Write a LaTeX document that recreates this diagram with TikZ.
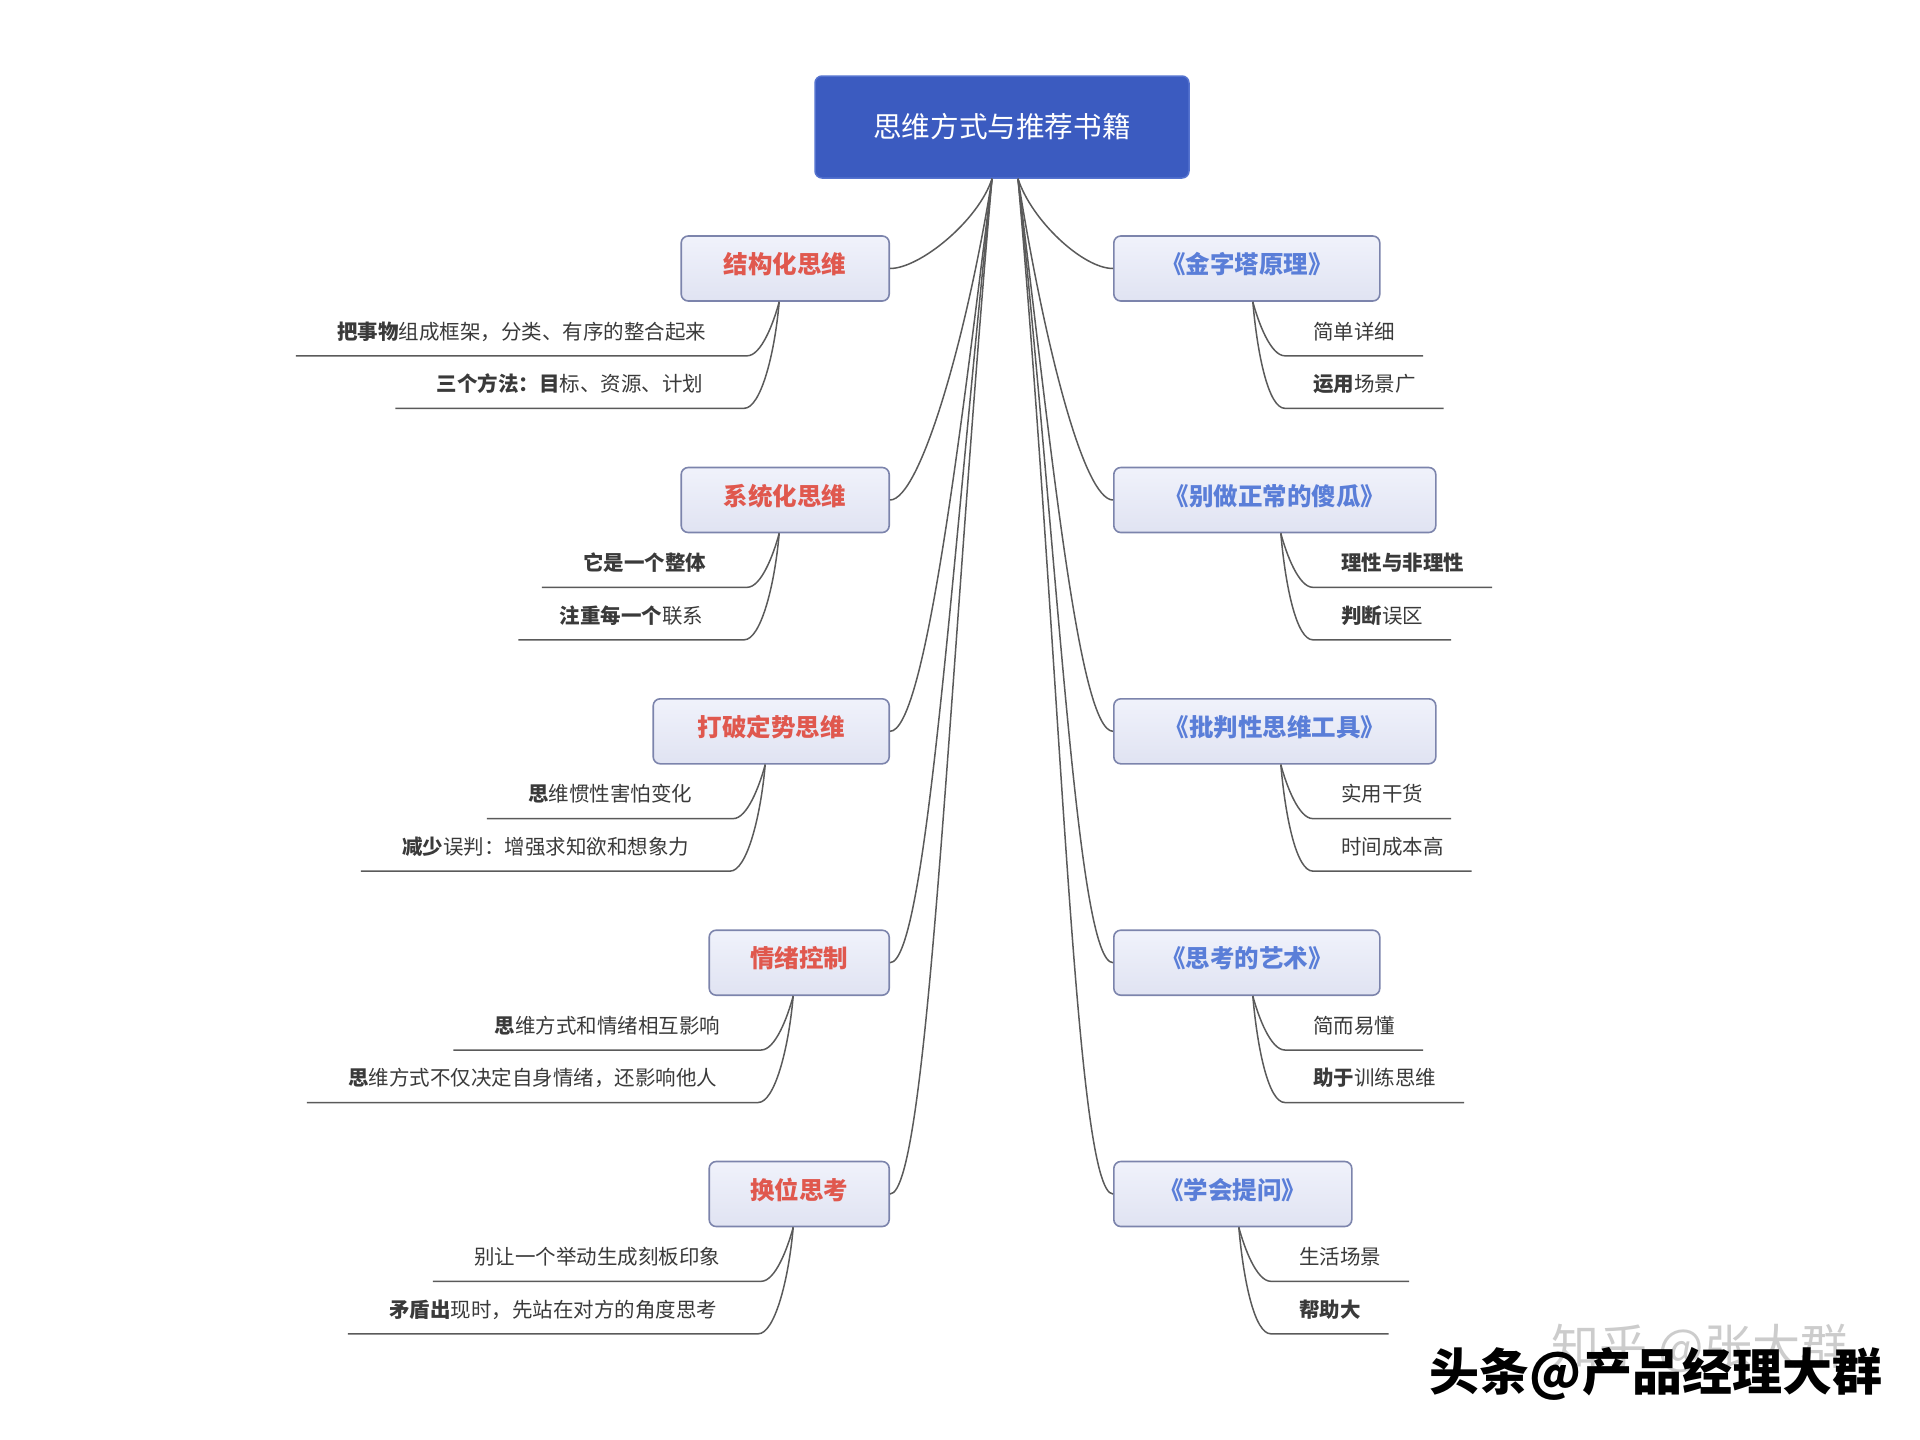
\documentclass[tikz,border=0pt]{standalone}
\usepackage{fontspec}
\setmainfont{Noto Sans CJK SC}
\definecolor{rootblue}{HTML}{3B5BC0}
\definecolor{rootedge}{HTML}{5573CF}
\definecolor{boxedge}{HTML}{7C84AC}
\definecolor{boxtop}{HTML}{F0F2FB}
\definecolor{boxbot}{HTML}{E0E3F2}
\definecolor{redtxt}{HTML}{E0584E}
\definecolor{bluetxt}{HTML}{5A7ED8}
\definecolor{subtxt}{HTML}{3A3A3A}
\definecolor{linkgray}{HTML}{5A5A5A}

\begin{document}
\begin{tikzpicture}[
x=1pt, y=1pt,
rootbox/.style={draw=rootedge, line width=1.5pt, fill=rootblue, rounded corners=7pt,
  minimum width=374pt, minimum height=102pt, text=white,
  font=\fontsize{28.6pt}{32pt}\selectfont},
topic/.style={draw=boxedge, line width=1.6pt, top color=boxtop, bottom color=boxbot,
  rounded corners=7pt, minimum height=65pt, inner xsep=0pt,
  text height=1.1em, text depth=0.08em, font=\bfseries\fontsize{24.5pt}{28pt}\selectfont},
ltopic/.style={topic, anchor=east, text=redtxt},
rtopic/.style={topic, anchor=west, text=bluetxt},
sub/.style={inner ysep=12.6pt, text height=16pt, text depth=4pt, text=subtxt,
  font=\fontsize{20.5pt}{24pt}\selectfont},
subl/.style={sub, anchor=south east, inner xsep=41pt},
subr/.style={sub, anchor=south west, inner xsep=28pt},
link/.style={draw=linkgray, line width=1.5pt}
]
\useasboundingbox (0,0) rectangle (1920,-1440);

\node[rootbox] (root) at (1002,-127) {思维方式与推荐书籍};

% left topics
\node[ltopic, minimum width=208pt] (B1) at (890,-268.5) {结构化思维};
\node[ltopic, minimum width=208pt] (B2) at (890,-500) {系统化思维};
\node[ltopic, minimum width=236pt] (B3) at (890,-731.3) {打破定势思维};
\node[ltopic, minimum width=180pt] (B4) at (890,-962.7) {情绪控制};
\node[ltopic, minimum width=180pt] (B5) at (890,-1194) {换位思考};

% right topics
\node[rtopic, minimum width=266pt] (R1) at (1113,-268.5) {《金字塔原理》};
\node[rtopic, minimum width=322pt] (R2) at (1113,-500) {《别做正常的傻瓜》};
\node[rtopic, minimum width=322pt] (R3) at (1113,-731.3) {《批判性思维工具》};
\node[rtopic, minimum width=266pt] (R4) at (1113,-962.7) {《思考的艺术》};
\node[rtopic, minimum width=238pt] (R5) at (1113,-1194) {《学会提问》};

\draw[link] ([xshift=-10pt]root.south) .. controls +(-108:44) and +(0:30) .. (B1.east);
\draw[link] ([xshift=-10pt]root.south) .. controls +(-99:160) and +(0:30) .. (B2.east);
\draw[link] ([xshift=-10pt]root.south) .. controls +(-97:275) and +(0:34) .. (B3.east);
\draw[link] ([xshift=-10pt]root.south) .. controls +(-96:390) and +(0:36) .. (B4.east);
\draw[link] ([xshift=-10pt]root.south) .. controls +(-95:500) and +(0:38) .. (B5.east);

\draw[link] ([xshift=16pt]root.south) .. controls +(-72:44) and +(180:30) .. (R1.west);
\draw[link] ([xshift=16pt]root.south) .. controls +(-81:160) and +(180:30) .. (R2.west);
\draw[link] ([xshift=16pt]root.south) .. controls +(-83:275) and +(180:34) .. (R3.west);
\draw[link] ([xshift=16pt]root.south) .. controls +(-84:390) and +(180:36) .. (R4.west);
\draw[link] ([xshift=16pt]root.south) .. controls +(-85:500) and +(180:38) .. (R5.west);

% left items
\node[subl] (b1a) at ([shift={(-38,-54)}]B1.south) {{\bfseries 把事物}组成框架，分类、有序的整合起来};
\node[subl] (b1b) at ([shift={(-41,-106.5)}]B1.south) {{\bfseries 三个方法：目}标、资源、计划};
\node[subl] (b2a) at ([shift={(-38,-54)}]B2.south) {{\bfseries 它是一个整体}};
\node[subl] (b2b) at ([shift={(-41,-106.5)}]B2.south) {{\bfseries 注重每一个}联系};
\node[subl] (b3a) at ([shift={(-38,-54)}]B3.south) {{\bfseries 思}维惯性害怕变化};
\node[subl] (b3b) at ([shift={(-41,-106.5)}]B3.south) {{\bfseries 减少}误判：增强求知欲和想象力};
\node[subl] (b4a) at ([shift={(-38,-54)}]B4.south) {{\bfseries 思}维方式和情绪相互影响};
\node[subl] (b4b) at ([shift={(-41,-106.5)}]B4.south) {{\bfseries 思}维方式不仅决定自身情绪，还影响他人};
\node[subl] (b5a) at ([shift={(-38,-54)}]B5.south) {别让一个举动生成刻板印象};
\node[subl] (b5b) at ([shift={(-41,-106.5)}]B5.south) {{\bfseries 矛盾出}现时，先站在对方的角度思考};

\draw[link] ([xshift=-6pt]B1.south) .. controls +(-105:22) and +(0:14) .. (b1a.south east) -- (b1a.south west);
\draw[link] ([xshift=-6pt]B1.south) .. controls +(-95:55) and +(0:16) .. (b1b.south east) -- (b1b.south west);
\draw[link] ([xshift=-6pt]B2.south) .. controls +(-105:22) and +(0:14) .. (b2a.south east) -- (b2a.south west);
\draw[link] ([xshift=-6pt]B2.south) .. controls +(-95:55) and +(0:16) .. (b2b.south east) -- (b2b.south west);
\draw[link] ([xshift=-6pt]B3.south) .. controls +(-105:22) and +(0:14) .. (b3a.south east) -- (b3a.south west);
\draw[link] ([xshift=-6pt]B3.south) .. controls +(-95:55) and +(0:16) .. (b3b.south east) -- (b3b.south west);
\draw[link] ([xshift=-6pt]B4.south) .. controls +(-105:22) and +(0:14) .. (b4a.south east) -- (b4a.south west);
\draw[link] ([xshift=-6pt]B4.south) .. controls +(-95:55) and +(0:16) .. (b4b.south east) -- (b4b.south west);
\draw[link] ([xshift=-6pt]B5.south) .. controls +(-105:22) and +(0:14) .. (b5a.south east) -- (b5a.south west);
\draw[link] ([xshift=-6pt]B5.south) .. controls +(-95:55) and +(0:16) .. (b5b.south east) -- (b5b.south west);

% right items
\node[subr] (r1a) at ([shift={(38,-54)}]R1.south) {简单详细};
\node[subr] (r1b) at ([shift={(38,-106.5)}]R1.south) {{\bfseries 运用}场景广};
\node[subr] (r2a) at ([shift={(38,-54)}]R2.south) {{\bfseries 理性与非理性}};
\node[subr] (r2b) at ([shift={(38,-106.5)}]R2.south) {{\bfseries 判断}误区};
\node[subr] (r3a) at ([shift={(38,-54)}]R3.south) {实用干货};
\node[subr] (r3b) at ([shift={(38,-106.5)}]R3.south) {时间成本高};
\node[subr] (r4a) at ([shift={(38,-54)}]R4.south) {简而易懂};
\node[subr] (r4b) at ([shift={(38,-106.5)}]R4.south) {{\bfseries 助于}训练思维};
\node[subr] (r5a) at ([shift={(38,-54)}]R5.south) {生活场景};
\node[subr] (r5b) at ([shift={(38,-106.5)}]R5.south) {{\bfseries 帮助大}};

\draw[link] ([xshift=6pt]R1.south) .. controls +(-75:22) and +(180:14) .. (r1a.south west) -- (r1a.south east);
\draw[link] ([xshift=6pt]R1.south) .. controls +(-85:55) and +(180:16) .. (r1b.south west) -- (r1b.south east);
\draw[link] ([xshift=6pt]R2.south) .. controls +(-75:22) and +(180:14) .. (r2a.south west) -- (r2a.south east);
\draw[link] ([xshift=6pt]R2.south) .. controls +(-85:55) and +(180:16) .. (r2b.south west) -- (r2b.south east);
\draw[link] ([xshift=6pt]R3.south) .. controls +(-75:22) and +(180:14) .. (r3a.south west) -- (r3a.south east);
\draw[link] ([xshift=6pt]R3.south) .. controls +(-85:55) and +(180:16) .. (r3b.south west) -- (r3b.south east);
\draw[link] ([xshift=6pt]R4.south) .. controls +(-75:22) and +(180:14) .. (r4a.south west) -- (r4a.south east);
\draw[link] ([xshift=6pt]R4.south) .. controls +(-85:55) and +(180:16) .. (r4b.south west) -- (r4b.south east);
\draw[link] ([xshift=6pt]R5.south) .. controls +(-75:22) and +(180:14) .. (r5a.south west) -- (r5a.south east);
\draw[link] ([xshift=6pt]R5.south) .. controls +(-85:55) and +(180:16) .. (r5b.south west) -- (r5b.south east);

% watermark
\node[text=gray!40, font=\fontsize{48pt}{54pt}\selectfont] (zhmark) at (1700,-1348) {知乎 @张大群};
\node[font=\bfseries\fontsize{50pt}{56pt}\selectfont] (ttmark) at (1656,-1374) {头条@产品经理大群};
\end{tikzpicture}
\end{document}
